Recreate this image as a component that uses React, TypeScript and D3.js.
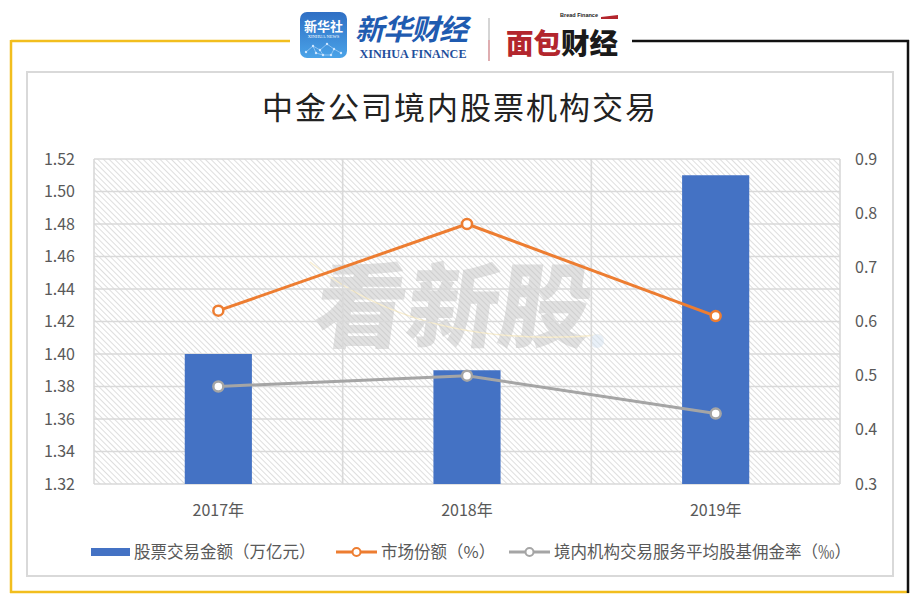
import React from 'react';
import * as d3 from 'd3';

const title = '中金公司境内股票机构交易';
const categories = ['2017年', '2018年', '2019年'];
const tradeAmount = [1.40, 1.39, 1.51];
const marketShare = [0.62, 0.78, 0.61];
const commissionRate = [0.48, 0.50, 0.43];
const leftTicks = [1.32, 1.34, 1.36, 1.38, 1.40, 1.42, 1.44, 1.46, 1.48, 1.50, 1.52];
const rightTicks = [0.3, 0.4, 0.5, 0.6, 0.7, 0.8, 0.9];
const seriesNames = ['股票交易金额（万亿元）', '市场份额（%）', '境内机构交易服务平均股基佣金率（‰）'];

const W = 919;
const H = 604;
const PL = 94, PR = 840, PT = 159, PB = 484;
const BLUE = '#4472C4', ORANGE = '#ED7D31', GRAY = '#A5A5A5';
const GRID = '#d9d9d9';
const TXT = '#595959';
const FONT = '"Noto Sans CJK SC", "Noto Sans", sans-serif';

export default function App() {
  const x = d3.scaleBand<string>().domain(categories).range([PL, PR]).padding(0);
  const yL = d3.scaleLinear().domain([1.32, 1.52]).range([PB, PT]);
  const yR = d3.scaleLinear().domain([0.3, 0.9]).range([PB, PT]);
  const bw = x.bandwidth() * 0.27;
  const cx = (c: string) => (x(c) as number) + x.bandwidth() / 2;

  const lineR = d3.line<number>().x((_, i) => cx(categories[i])).y(d => yR(d));
  const fmtL = d3.format('.2f');
  const fmtR = d3.format('.1f');

  const boundaries = categories.slice(1).map(c => x(c) as number);

  return (
    <svg width={W} height={H} style={{ position: 'absolute', left: 0, top: 0, background: '#fff' }} fontFamily={FONT}>
      <defs>
        <pattern id="hatch" width="4" height="4" patternUnits="userSpaceOnUse" patternTransform="rotate(-45)">
          <rect width="4" height="4" fill="#ffffff" />
          <line x1="0" y1="0" x2="0" y2="4" stroke="#d6d6d6" strokeWidth="1.6" />
        </pattern>
        <linearGradient id="xhbg" x1="0" y1="0" x2="0" y2="1">
          <stop offset="0" stopColor="#2f6fc4" />
          <stop offset="1" stopColor="#4aa3e8" />
        </linearGradient>
      </defs>
      <rect width={W} height={H} fill="#fff" />

      {/* outer frame */}
      <line x1={11} y1={41} x2={290} y2={41} stroke="#F2BE1E" strokeWidth={2.5} />
      <line x1={11} y1={40} x2={11} y2={593} stroke="#F2BE1E" strokeWidth={2.5} />
      <line x1={10} y1={592} x2={909} y2={592} stroke="#F2BE1E" strokeWidth={2.5} />
      <line x1={632} y1={41} x2={909} y2={41} stroke="#111" strokeWidth={2.5} />
      <line x1={908} y1={40} x2={908} y2={593} stroke="#111" strokeWidth={2.5} />

      {/* inner box */}
      <rect x={27} y={72} width={866} height={504} fill="none" stroke={GRID} strokeWidth={2} />

      {/* logos */}
      <g>
        <rect x={300} y={12} width={47} height={46} rx={7} fill="url(#xhbg)" />
        <text x={323.5} y={31} textAnchor="middle" fontSize={13} fill="#fff" fontWeight={700}>新华社</text>
        <text x={323.5} y={38} textAnchor="middle" fontSize={4.5} fill="#fff" fontFamily="Liberation Serif">XINHUA NEWS</text>
        {[[306, 52], [313, 46], [320, 50], [327, 44], [334, 49], [341, 53], [323, 55], [316, 53], [331, 55]].map((p, i) => (
          <circle key={i} cx={p[0]} cy={p[1]} r={1.2} fill="#cfe6ff" />
        ))}
        <path d="M306,52 L313,46 L320,50 L327,44 L334,49 L341,53 M313,46 L316,53 L323,55 L331,55 L334,49 M320,50 L323,55" stroke="#cfe6ff" strokeWidth={0.5} fill="none" />
        <text x={411} y={40} textAnchor="middle" fontSize={29} fill="#1f5bb0" fontWeight={700} fontStyle="italic" fontFamily='"Noto Sans CJK SC"' letterSpacing={-1}>新华财经</text>
        <text x={413} y={58} textAnchor="middle" fontSize={11.5} fill="#1f4f9c" fontWeight={700} fontFamily="Liberation Serif" textLength={107} lengthAdjust="spacingAndGlyphs">XINHUA FINANCE</text>
        <line x1={489} y1={18} x2={489} y2={40} stroke="#b9b9b9" strokeWidth={1.2} />
        <line x1={489} y1={40} x2={489} y2={61} stroke="#c9777c" strokeWidth={1.2} />
        <text x={560} y={17} fontSize={6} fill="#222" fontFamily="Liberation Sans" fontWeight={700} textLength={38} lengthAdjust="spacingAndGlyphs">Bread Finance</text>
        <path d="M601,17 L618,15 L618,19 L601,19 Z" fill="#b3262d" />
        <text x={506} y={54} fontSize={28} fontWeight={900} fill="#b3262d" textLength={55} lengthAdjust="spacingAndGlyphs">面包</text>
        <text x={561} y={54} fontSize={28} fontWeight={900} fill="#1a1a1a" textLength={57} lengthAdjust="spacingAndGlyphs">财经</text>
      </g>

      {/* title */}
      <text x={460} y={119} textAnchor="middle" fontSize={31} fill="#222" fontWeight={400} letterSpacing={2}>{title}</text>

      {/* plot background */}
      <rect x={PL} y={PT} width={PR - PL} height={PB - PT} fill="url(#hatch)" />

      {/* watermark */}
      <g opacity={0.45}>
        <text x={452} y={340} textAnchor="middle" fontSize={92} fontWeight={900} fill="#bdbdbd" transform="skewX(-8) translate(45,0)">看新股</text>
        <path d="M310,262 Q420,350 600,335" fill="none" stroke="#f3dc9a" strokeWidth={1.5} />
        <circle cx={597} cy={341} r={7} fill="#cfe0f0" />
      </g>

      {/* gridlines */}
      {leftTicks.map(t => (
        <line key={t} x1={PL} x2={PR} y1={yL(t)} y2={yL(t)} stroke={GRID} strokeWidth={1.6} />
      ))}
      {[PL, ...boundaries, PR].map((bx, i) => (
        <line key={i} x1={bx} x2={bx} y1={PT} y2={PB} stroke={GRID} strokeWidth={1.6} />
      ))}

      {/* bars */}
      {categories.map((c, i) => (
        <rect key={c} x={cx(c) - bw / 2} y={yL(tradeAmount[i])} width={bw} height={PB - yL(tradeAmount[i])} fill={BLUE} />
      ))}

      {/* lines */}
      <path d={lineR(commissionRate) as string} fill="none" stroke={GRAY} strokeWidth={3} strokeLinejoin="round" />
      {commissionRate.map((v, i) => (
        <circle key={i} cx={cx(categories[i])} cy={yR(v)} r={5} fill="#fff" stroke={GRAY} strokeWidth={2.5} />
      ))}
      <path d={lineR(marketShare) as string} fill="none" stroke={ORANGE} strokeWidth={3} strokeLinejoin="round" />
      {marketShare.map((v, i) => (
        <circle key={i} cx={cx(categories[i])} cy={yR(v)} r={5} fill="#fff" stroke={ORANGE} strokeWidth={2.5} />
      ))}

      {/* axes labels */}
      {leftTicks.map(t => (
        <text key={t} x={75} y={yL(t)} dy="0.35em" textAnchor="end" fontSize={16} fill={TXT}>{fmtL(t)}</text>
      ))}
      {rightTicks.map(t => (
        <text key={t} x={855} y={yR(t)} dy="0.35em" textAnchor="start" fontSize={16} fill={TXT}>{fmtR(t)}</text>
      ))}
      {categories.map(c => (
        <text key={c} x={cx(c)} y={510} dy="0.35em" textAnchor="middle" fontSize={16} fill={TXT}>{c}</text>
      ))}

      {/* legend */}
      <g>
        <rect x={91} y={548} width={39} height={8} fill={BLUE} />
        <text x={134} y={552} dy="0.35em" fontSize={16.5} fill={TXT}>{seriesNames[0]}</text>
        <line x1={336} x2={377} y1={552} y2={552} stroke={ORANGE} strokeWidth={3} />
        <circle cx={356.5} cy={552} r={4} fill="#fff" stroke={ORANGE} strokeWidth={2} />
        <text x={381} y={552} dy="0.35em" fontSize={16.5} fill={TXT}>{seriesNames[1]}</text>
        <line x1={509} x2={550} y1={552} y2={552} stroke={GRAY} strokeWidth={3} />
        <circle cx={529.5} cy={552} r={4} fill="#fff" stroke={GRAY} strokeWidth={2} />
        <text x={554} y={552} dy="0.35em" fontSize={16.5} fill={TXT}>{seriesNames[2]}</text>
      </g>
    </svg>
  );
}
